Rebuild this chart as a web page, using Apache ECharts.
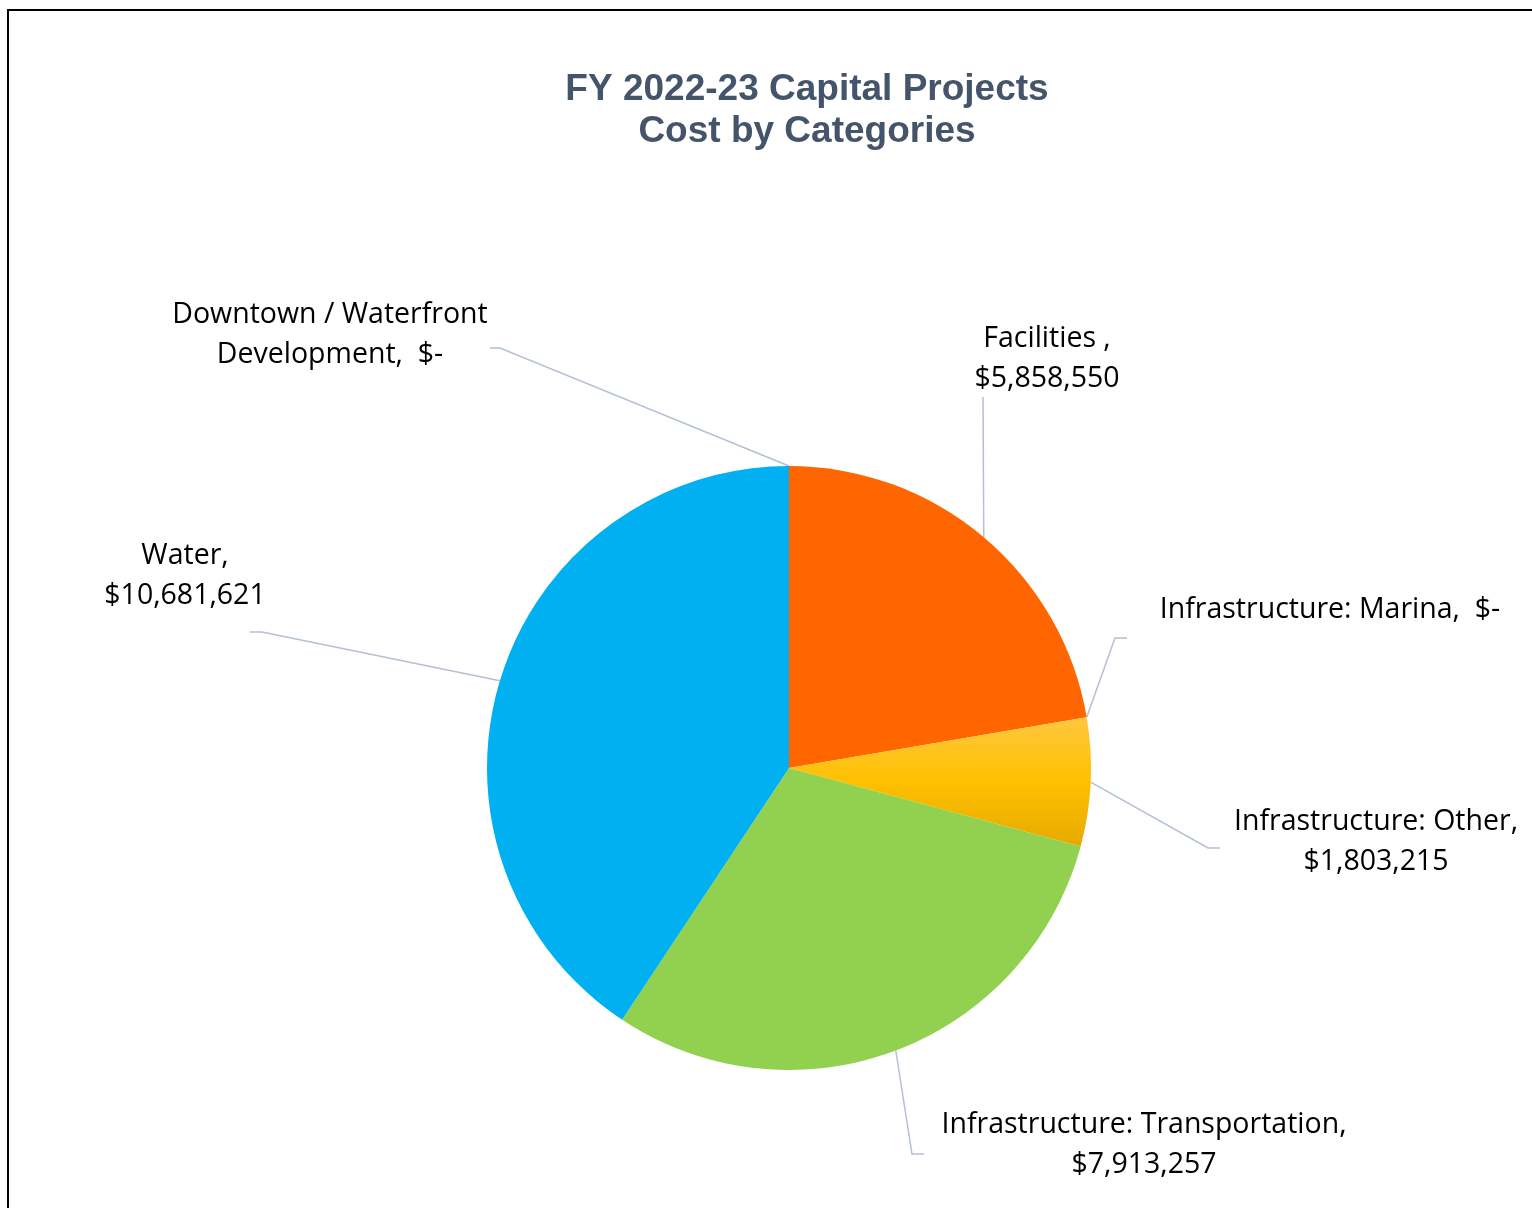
<!DOCTYPE html>
<html>
<head>
<meta charset="utf-8">
<script src="https://cdn.jsdelivr.net/npm/echarts@6/dist/echarts.min.js"></script>
<style>
html,body{margin:0;padding:0;background:#fff;}
#chart{width:1532px;height:1208px;}
</style>
</head>
<body>
<div id="chart"></div>
<script>
// Data
const categories = ['Facilities', 'Infrastructure: Marina', 'Infrastructure: Other', 'Infrastructure: Transportation', 'Water', 'Downtown / Waterfront Development'];
const labelNames = ['Facilities ,', 'Infrastructure: Marina,', 'Infrastructure: Other,', 'Infrastructure: Transportation,', 'Water,', 'Downtown / Waterfront\nDevelopment,'];
const labelBreaks = ['\n', '  ', '\n', '\n', '\n', '  '];
const values = [5858550, 0, 1803215, 7913257, 10681621, 0];
const titleLines = ['FY 2022-23 Capital Projects', 'Cost by Categories'];

const colors = [
  '#FF6600',
  '#FFC000',
  {type:'linear', x:0, y:0, x2:0, y2:1, colorStops:[{offset:0,color:'#FFC73F'},{offset:0.5,color:'#FFC000'},{offset:1,color:'#E6AA00'}]},
  '#92D050',
  '#00B0F0',
  '#4472C4'
];

function fmtMoney(v){
  return v === 0 ? '$-' : '$' + v.toLocaleString('en-US');
}

// label anchor (centre) positions and leader-line elbows
const labelPos = [
  {x:1047, y:359, elbow:[983,397], end:[983,397]},
  {x:1330, y:610, elbow:[1115,638], end:[1127,638]},
  {x:1376, y:842, elbow:[1208,848], end:[1220,848]},
  {x:1144, y:1145, elbow:[912,1154], end:[924,1154]},
  {x:185, y:576, elbow:[262,632], end:[250,632]},
  {x:330, y:335, elbow:[500,348], end:[490,348]}
];

const chart = echarts.init(document.getElementById('chart'));
const option = {
  backgroundColor:'#fff',
  title:{
    text: titleLines.join('\n'),
    left: 802, textAlign:'center',
    top: 64,
    textStyle:{fontFamily:'Liberation Sans, Arial, sans-serif', fontWeight:'bold', fontSize:37, color:'#44546A', lineHeight:42}
  },
  graphic:[
    {type:'line', shape:{x1:7, y1:10, x2:1540, y2:10}, style:{stroke:'#000', lineWidth:2}, silent:true, z:100},
    {type:'line', shape:{x1:8, y1:10, x2:8, y2:1220}, style:{stroke:'#000', lineWidth:2}, silent:true, z:100}
  ],
  series:[{
    type:'pie',
    center:[789,768],
    radius:302,
    startAngle:90,
    clockwise:true,
    avoidLabelOverlap:false,
    stillShowZeroSum:true,
    data: categories.map((c,i)=>({name:c, value:values[i], itemStyle:{color:colors[i]}})),
    label:{
      show:true, position:'outside',
      formatter:(p)=> labelNames[p.dataIndex] + labelBreaks[p.dataIndex] + fmtMoney(p.value),
      fontFamily:'Open Sans, sans-serif', fontSize:28.5, color:'#000', lineHeight:40, align:'center'
    },
    labelLine:{show:true, length:20, length2:10, lineStyle:{color:'#B4C0D4', width:1.5}},
    labelLayout:(params)=>{
      const lp = labelPos[params.dataIndex];
      const pts = params.labelLinePoints;
      const start = pts ? pts[0] : [0,0];
      return {
        x: lp.x, y: lp.y, align:'center', verticalAlign:'middle',
        labelLinePoints:[start, lp.elbow, lp.end]
      };
    },
    emphasis:{disabled:true},
    animation:false
  }]
};
chart.setOption(option);
</script>
</body>
</html>
